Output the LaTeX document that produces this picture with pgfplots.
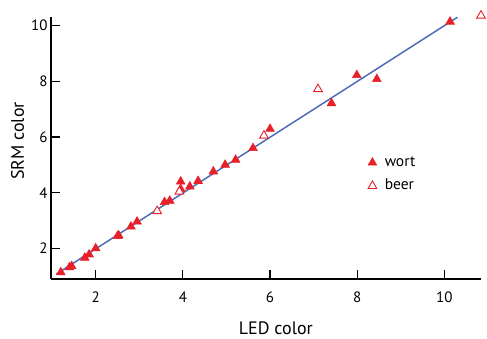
\documentclass[border=0pt]{standalone}
\usepackage{fontspec}
\setmainfont{PT Sans}
\usepackage{pgfplots}
\pgfplotsset{compat=1.18}
\definecolor{mred}{HTML}{E8202A}
\definecolor{mblue}{HTML}{4D6DB8}
\begin{document}
\begin{tikzpicture}
\path[use as bounding box] (-51pt,-60pt) rectangle (436pt,279pt);
\begin{axis}[
  at={(0pt,0pt)}, anchor=south west,
  scale only axis, width=430pt, height=262.3pt,
  axis lines=left, axis line style={line width=1.2pt, -},
  xmin=0.975, xmax=10.84, ymin=0.9, ymax=10.32,
  xtick={2,4,6,8,10}, ytick={2,4,6,8,10},
  tick align=inside, major tick length=9pt,
  tick style={line width=1.2pt, black},
  /pgf/number format/assume math mode=true,
  ticklabel style={font=\fontsize{15}{17}\selectfont},
  xticklabel style={yshift=-9pt},
  xlabel={LED color}, ylabel={SRM color},
  label style={font=\fontsize{18}{20}\selectfont},
  xlabel style={at={(rel axis cs:0.523,-0.2135)}, anchor=base},
  ylabel style={at={(rel axis cs:-0.0628,0.526)}, anchor=base},
  clip=false,
  legend style={at={(rel axis cs:0.737,0.399)}, anchor=west, draw=none, fill=none,
    inner sep=0pt, row sep=5.3pt,
    font=\fontsize{15.5}{18}\selectfont,
    nodes={text height=11pt, text depth=3pt, inner sep=2pt},
    /tikz/every odd column/.append style={column sep=6pt}},
  legend cell align=left,
]
\addplot[mblue, line width=1.5pt, forget plot] coordinates {(1.1,1.08) (10.3,10.3)};
\addplot[only marks, mark=triangle*, mark size=5pt, color=mred, mark options={fill=mred, line width=0.6pt}]
coordinates {
(1.2,1.14) (1.40,1.32) (1.45,1.36) (1.75,1.66) (1.85,1.78) (2.0,2.0)
(2.5,2.44) (2.53,2.46) (2.81,2.78) (2.95,2.96) (3.58,3.66) (3.7,3.71)
(3.95,4.4) (3.95,4.13) (4.16,4.22) (4.35,4.42) (4.70,4.76) (4.97,5.0)
(5.21,5.18) (5.61,5.6) (6.0,6.29) (7.41,7.21) (7.99,8.22) (8.45,8.08)
(10.13,10.14)
};
\addlegendentry{wort}
\addplot[only marks, mark=triangle*, mark size=5pt, color=mred, mark options={fill=white, line width=0.9pt}]
coordinates {
(3.41,3.34) (3.92,4.04) (5.86,6.05) (7.1,7.72) (10.84,10.36)
};
\addlegendentry{beer}
\end{axis}
\end{tikzpicture}
\end{document}
